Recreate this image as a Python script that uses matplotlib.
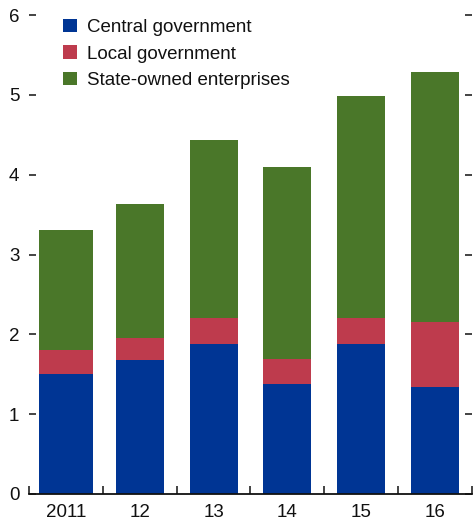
import matplotlib
matplotlib.use("Agg")
import matplotlib.pyplot as plt
import numpy as np

plt.rcParams['font.family'] = ['Liberation Sans Narrow', 'Liberation Sans', 'DejaVu Sans']

years = ["2011", "12", "13", "14", "15", "16"]
central = [1.50, 1.68, 1.88, 1.38, 1.88, 1.34]
local = [0.30, 0.28, 0.32, 0.31, 0.32, 0.82]
soe = [1.51, 1.67, 2.23, 2.41, 2.78, 3.12]
series_names = ["Central government", "Local government", "State-owned enterprises"]
colors = ["#003594", "#BE3B4D", "#4A7729"]
widths = [0.73, 0.65, 0.65, 0.65, 0.65, 0.65]

fig = plt.figure(figsize=(4.74, 5.25), dpi=100)
ax = fig.add_axes([29/474, 31/525, 443/474, 479/525])

x = np.arange(len(years))
c = np.array(central); l = np.array(local); s = np.array(soe)
ax.bar(x, c, width=widths, color=colors[0], label=series_names[0])
ax.bar(x, l, bottom=c, width=widths, color=colors[1], label=series_names[1])
ax.bar(x, s, bottom=c + l, width=widths, color=colors[2], label=series_names[2])

ax.set_xlim(-0.5, 5.5)
ax.set_ylim(0, 6)
ax.set_yticks(range(0, 7))
ax.set_yticklabels([str(v) for v in range(0, 7)])
ax.set_xticks(x)
ax.set_xticklabels(years)
ax.set_xticks(np.arange(-0.5, 6.0, 1.0), minor=True)

for sp in ['left', 'top', 'right']:
    ax.spines[sp].set_visible(False)
ax.spines['bottom'].set_linewidth(1.3)
ax.spines['bottom'].set_color('#111111')

ax.tick_params(axis='y', which='major', direction='in', length=5, width=1.1,
               labelsize=13.5, pad=7, left=True, right=True, colors='#111111')
ax.tick_params(axis='x', which='major', length=0, labelsize=13.5, pad=7, colors='#111111')
ax.tick_params(axis='x', which='minor', direction='in', length=6, width=1.1, color='#111111')

leg = ax.legend(loc='upper left', bbox_to_anchor=(0.06, 1.008), frameon=False, fontsize=13.5,
                handlelength=0.72, handleheight=0.72, handletextpad=0.55, labelspacing=0.5,
                borderaxespad=0)
for t in leg.get_texts():
    t.set_color('#111111')

fig.savefig("out.png", dpi=100)
